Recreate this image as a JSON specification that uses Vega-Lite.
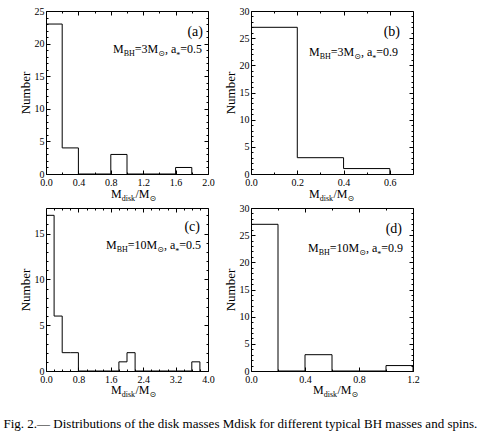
{
"$schema": "https://vega.github.io/schema/vega-lite/v6.json",
"background": "white",
"padding": {"left": 3, "top": 5, "right": 5, "bottom": 5},
"datasets": {
"a": [{"bin_start":0,"count":23},{"bin_start":0.2,"count":4},{"bin_start":0.4,"count":0},{"bin_start":0.6,"count":0},{"bin_start":0.8,"count":3},{"bin_start":1.0,"count":0},{"bin_start":1.2,"count":0},{"bin_start":1.4,"count":0},{"bin_start":1.6,"count":1},{"bin_start":1.8,"count":0}],
"b": [{"bin_start":0,"count":27},{"bin_start":0.2,"count":3},{"bin_start":0.4,"count":1},{"bin_start":0.6,"count":0}],
"c": [{"bin_start":0,"count":17},{"bin_start":0.2,"count":6},{"bin_start":0.4,"count":2},{"bin_start":0.6,"count":2},{"bin_start":0.8,"count":0},{"bin_start":1.0,"count":0},{"bin_start":1.2,"count":0},{"bin_start":1.4,"count":0},{"bin_start":1.6,"count":0},{"bin_start":1.8,"count":1},{"bin_start":2.0,"count":2},{"bin_start":2.2,"count":0},{"bin_start":2.4,"count":0},{"bin_start":2.6,"count":0},{"bin_start":2.8,"count":0},{"bin_start":3.0,"count":0},{"bin_start":3.2,"count":0},{"bin_start":3.4,"count":0},{"bin_start":3.6,"count":1},{"bin_start":3.8,"count":0}],
"d": [{"bin_start":0,"count":27},{"bin_start":0.2,"count":0},{"bin_start":0.4,"count":3},{"bin_start":0.6,"count":0},{"bin_start":0.8,"count":0},{"bin_start":1.0,"count":1},{"bin_start":1.2,"count":0}]
},
"title": {"text": "Fig. 2.— Distributions of the disk masses Mdisk for different typical BH masses and spins.", "orient": "bottom", "anchor": "start", "dx": -15, "offset": 18, "font": "Liberation Serif", "fontSize": 13, "fontWeight": "normal", "color": "black"},
"columns": 2,
"spacing": {"row": 34, "column": 43},
"bounds": "flush",
"concat": [
{"width":162,"height":163,"resolve":{"axis":{"x":"independent","y":"independent"}},"layer":[
{"data":{"name":"a"},"mark":{"type":"line","interpolate":"step-after","color":"black","strokeWidth":1},"encoding":{"x":{"field":"bin_start","type":"quantitative","scale":{"domain":[0,2],"nice":false,"zero":false},"axis":{"orient":"bottom","values":[0,0.4,0.8,1.2,1.6,2.0],"format":".1f","tickSize":-4,"labelPadding":7,"title":null}},"y":{"field":"count","type":"quantitative","scale":{"domain":[0,25],"nice":false},"axis":{"orient":"left","values":[0,5,10,15,20,25],"format":"d","tickSize":-4,"labelPadding":6,"title":"Number","titlePadding":2}}}},
{"data":{"values":[{}]},"mark":{"type":"text","text":"(a)","align":"right","dx":-5,"dy":25,"fontSize":14},"encoding":{"x":{"datum":2,"type":"quantitative","axis":{"orient":"bottom","values":[0.2,0.6,1.0,1.4,1.8],"tickSize":-2,"labels":false,"title":null}},"y":{"datum":25,"type":"quantitative","axis":{"orient":"left","values":[1,2,3,4,6,7,8,9,11,12,13,14,16,17,18,19,21,22,23,24],"tickSize":-2,"labels":false,"title":null}}}},
{"data":{"values":[{}]},"mark":{"type":"text","text":"M","dx":67,"dy":42,"fontSize":12},"encoding":{"x":{"datum":0,"type":"quantitative","axis":{"orient":"top","values":[0,0.4,0.8,1.2,1.6,2.0],"tickSize":-4,"labels":false,"title":null}},"y":{"datum":25,"type":"quantitative","axis":{"orient":"right","values":[0,5,10,15,20,25],"tickSize":-4,"labels":false,"title":null}}}},
{"data":{"values":[{}]},"mark":{"type":"text","text":"BH","dx":77.7,"dy":44.5,"fontSize":8},"encoding":{"x":{"datum":0,"type":"quantitative","axis":{"orient":"top","values":[0.2,0.6,1.0,1.4,1.8],"tickSize":-2,"labels":false,"title":null}},"y":{"datum":25,"type":"quantitative","axis":{"orient":"right","values":[1,2,3,4,6,7,8,9,11,12,13,14,16,17,18,19,21,22,23,24],"tickSize":-2,"labels":false,"title":null}}}},
{"data":{"values":[{}]},"mark":{"type":"text","text":"=3M","dx":88.8,"dy":42,"fontSize":12},"encoding":{"x":{"datum":0,"type":"quantitative","axis":null},"y":{"datum":25,"type":"quantitative","axis":null}}},
{"data":{"values":[{}]},"mark":{"type":"text","text":"⊙","dx":112.2,"dy":45,"fontSize":8,"font":"DejaVu Sans"},"encoding":{"x":{"datum":0,"type":"quantitative","axis":null},"y":{"datum":25,"type":"quantitative","axis":null}}},
{"data":{"values":[{}]},"mark":{"type":"text","text":", a","dx":118.9,"dy":42,"fontSize":12},"encoding":{"x":{"datum":0,"type":"quantitative","axis":null},"y":{"datum":25,"type":"quantitative","axis":null}}},
{"data":{"values":[{}]},"mark":{"type":"text","text":"*","dx":130.2,"dy":47,"fontSize":8},"encoding":{"x":{"datum":0,"type":"quantitative","axis":null},"y":{"datum":25,"type":"quantitative","axis":null}}},
{"data":{"values":[{}]},"mark":{"type":"text","text":"=0.5","dx":134.2,"dy":42,"fontSize":12},"encoding":{"x":{"datum":0,"type":"quantitative","axis":null},"y":{"datum":25,"type":"quantitative","axis":null}}},
{"data":{"values":[{}]},"mark":{"type":"text","text":"M","dx":65,"dy":24,"fontSize":12},"encoding":{"x":{"datum":0,"type":"quantitative","axis":null},"y":{"datum":0,"type":"quantitative","axis":null}}},
{"data":{"values":[{}]},"mark":{"type":"text","text":"disk","dx":75.7,"dy":27,"fontSize":8},"encoding":{"x":{"datum":0,"type":"quantitative","axis":null},"y":{"datum":0,"type":"quantitative","axis":null}}},
{"data":{"values":[{}]},"mark":{"type":"text","text":"/M","dx":89.5,"dy":24,"fontSize":12},"encoding":{"x":{"datum":0,"type":"quantitative","axis":null},"y":{"datum":0,"type":"quantitative","axis":null}}},
{"data":{"values":[{}]},"mark":{"type":"text","text":"⊙","dx":103.5,"dy":27,"fontSize":8,"font":"DejaVu Sans"},"encoding":{"x":{"datum":0,"type":"quantitative","axis":null},"y":{"datum":0,"type":"quantitative","axis":null}}}
]},
{"width":162,"height":163,"resolve":{"axis":{"x":"independent","y":"independent"}},"layer":[
{"data":{"name":"b"},"mark":{"type":"line","interpolate":"step-after","color":"black","strokeWidth":1},"encoding":{"x":{"field":"bin_start","type":"quantitative","scale":{"domain":[0,0.7],"nice":false,"zero":false},"axis":{"orient":"bottom","values":[0,0.2,0.4,0.6],"format":".1f","tickSize":-4,"labelPadding":7,"title":null}},"y":{"field":"count","type":"quantitative","scale":{"domain":[0,30],"nice":false},"axis":{"orient":"left","values":[0,5,10,15,20,25,30],"format":"d","tickSize":-4,"labelPadding":6,"title":"Number","titlePadding":2}}}},
{"data":{"values":[{}]},"mark":{"type":"text","text":"(b)","align":"right","dx":-13,"dy":25,"fontSize":14},"encoding":{"x":{"datum":0.7,"type":"quantitative","axis":{"orient":"bottom","values":[0.1,0.3,0.5],"tickSize":-2,"labels":false,"title":null}},"y":{"datum":30,"type":"quantitative","axis":{"orient":"left","values":[1,2,3,4,6,7,8,9,11,12,13,14,16,17,18,19,21,22,23,24,26,27,28,29],"tickSize":-2,"labels":false,"title":null}}}},
{"data":{"values":[{}]},"mark":{"type":"text","text":"M","dx":58,"dy":45,"fontSize":12},"encoding":{"x":{"datum":0,"type":"quantitative","axis":{"orient":"top","values":[0,0.2,0.4,0.6],"tickSize":-4,"labels":false,"title":null}},"y":{"datum":30,"type":"quantitative","axis":{"orient":"right","values":[0,5,10,15,20,25,30],"tickSize":-4,"labels":false,"title":null}}}},
{"data":{"values":[{}]},"mark":{"type":"text","text":"BH","dx":68.7,"dy":47.5,"fontSize":8},"encoding":{"x":{"datum":0,"type":"quantitative","axis":{"orient":"top","values":[0.1,0.3,0.5],"tickSize":-2,"labels":false,"title":null}},"y":{"datum":30,"type":"quantitative","axis":{"orient":"right","values":[1,2,3,4,6,7,8,9,11,12,13,14,16,17,18,19,21,22,23,24,26,27,28,29],"tickSize":-2,"labels":false,"title":null}}}},
{"data":{"values":[{}]},"mark":{"type":"text","text":"=3M","dx":79.8,"dy":45,"fontSize":12},"encoding":{"x":{"datum":0,"type":"quantitative","axis":null},"y":{"datum":30,"type":"quantitative","axis":null}}},
{"data":{"values":[{}]},"mark":{"type":"text","text":"⊙","dx":103.2,"dy":48,"fontSize":8,"font":"DejaVu Sans"},"encoding":{"x":{"datum":0,"type":"quantitative","axis":null},"y":{"datum":30,"type":"quantitative","axis":null}}},
{"data":{"values":[{}]},"mark":{"type":"text","text":", a","dx":109.9,"dy":45,"fontSize":12},"encoding":{"x":{"datum":0,"type":"quantitative","axis":null},"y":{"datum":30,"type":"quantitative","axis":null}}},
{"data":{"values":[{}]},"mark":{"type":"text","text":"*","dx":121.2,"dy":50,"fontSize":8},"encoding":{"x":{"datum":0,"type":"quantitative","axis":null},"y":{"datum":30,"type":"quantitative","axis":null}}},
{"data":{"values":[{}]},"mark":{"type":"text","text":"=0.9","dx":125.2,"dy":45,"fontSize":12},"encoding":{"x":{"datum":0,"type":"quantitative","axis":null},"y":{"datum":30,"type":"quantitative","axis":null}}},
{"data":{"values":[{}]},"mark":{"type":"text","text":"M","dx":58,"dy":24,"fontSize":12},"encoding":{"x":{"datum":0,"type":"quantitative","axis":null},"y":{"datum":0,"type":"quantitative","axis":null}}},
{"data":{"values":[{}]},"mark":{"type":"text","text":"disk","dx":68.7,"dy":27,"fontSize":8},"encoding":{"x":{"datum":0,"type":"quantitative","axis":null},"y":{"datum":0,"type":"quantitative","axis":null}}},
{"data":{"values":[{}]},"mark":{"type":"text","text":"/M","dx":82.5,"dy":24,"fontSize":12},"encoding":{"x":{"datum":0,"type":"quantitative","axis":null},"y":{"datum":0,"type":"quantitative","axis":null}}},
{"data":{"values":[{}]},"mark":{"type":"text","text":"⊙","dx":96.5,"dy":27,"fontSize":8,"font":"DejaVu Sans"},"encoding":{"x":{"datum":0,"type":"quantitative","axis":null},"y":{"datum":0,"type":"quantitative","axis":null}}}
]},
{"width":162,"height":163,"resolve":{"axis":{"x":"independent","y":"independent"}},"layer":[
{"data":{"name":"c"},"mark":{"type":"line","interpolate":"step-after","color":"black","strokeWidth":1},"encoding":{"x":{"field":"bin_start","type":"quantitative","scale":{"domain":[0,4],"nice":false,"zero":false},"axis":{"orient":"bottom","values":[0,0.8,1.6,2.4,3.2,4.0],"format":".1f","tickSize":-4,"labelPadding":7,"title":null}},"y":{"field":"count","type":"quantitative","scale":{"domain":[0,17.8],"nice":false},"axis":{"orient":"left","values":[0,5,10,15],"format":"d","tickSize":-4,"labelPadding":6,"title":"Number","titlePadding":2}}}},
{"data":{"values":[{}]},"mark":{"type":"text","text":"(c)","align":"right","dx":-8,"dy":23,"fontSize":14},"encoding":{"x":{"datum":4,"type":"quantitative","axis":{"orient":"bottom","values":[0.2,0.4,0.6,1.0,1.2,1.4,1.8,2.0,2.2,2.6,2.8,3.0,3.4,3.6,3.8],"tickSize":-2,"labels":false,"title":null}},"y":{"datum":17.8,"type":"quantitative","axis":{"orient":"left","values":[1,2,3,4,6,7,8,9,11,12,13,14,16,17],"tickSize":-2,"labels":false,"title":null}}}},
{"data":{"values":[{}]},"mark":{"type":"text","text":"M","dx":60,"dy":41,"fontSize":12},"encoding":{"x":{"datum":0,"type":"quantitative","axis":{"orient":"top","values":[0,0.8,1.6,2.4,3.2,4.0],"tickSize":-4,"labels":false,"title":null}},"y":{"datum":17.8,"type":"quantitative","axis":{"orient":"right","values":[0,5,10,15],"tickSize":-4,"labels":false,"title":null}}}},
{"data":{"values":[{}]},"mark":{"type":"text","text":"BH","dx":70.7,"dy":43.5,"fontSize":8},"encoding":{"x":{"datum":0,"type":"quantitative","axis":{"orient":"top","values":[0.2,0.4,0.6,1.0,1.2,1.4,1.8,2.0,2.2,2.6,2.8,3.0,3.4,3.6,3.8],"tickSize":-2,"labels":false,"title":null}},"y":{"datum":17.8,"type":"quantitative","axis":{"orient":"right","values":[1,2,3,4,6,7,8,9,11,12,13,14,16,17],"tickSize":-2,"labels":false,"title":null}}}},
{"data":{"values":[{}]},"mark":{"type":"text","text":"=10M","dx":81.8,"dy":41,"fontSize":12},"encoding":{"x":{"datum":0,"type":"quantitative","axis":null},"y":{"datum":17.8,"type":"quantitative","axis":null}}},
{"data":{"values":[{}]},"mark":{"type":"text","text":"⊙","dx":111.2,"dy":44,"fontSize":8,"font":"DejaVu Sans"},"encoding":{"x":{"datum":0,"type":"quantitative","axis":null},"y":{"datum":17.8,"type":"quantitative","axis":null}}},
{"data":{"values":[{}]},"mark":{"type":"text","text":", a","dx":117.9,"dy":41,"fontSize":12},"encoding":{"x":{"datum":0,"type":"quantitative","axis":null},"y":{"datum":17.8,"type":"quantitative","axis":null}}},
{"data":{"values":[{}]},"mark":{"type":"text","text":"*","dx":129.2,"dy":46,"fontSize":8},"encoding":{"x":{"datum":0,"type":"quantitative","axis":null},"y":{"datum":17.8,"type":"quantitative","axis":null}}},
{"data":{"values":[{}]},"mark":{"type":"text","text":"=0.5","dx":133.2,"dy":41,"fontSize":12},"encoding":{"x":{"datum":0,"type":"quantitative","axis":null},"y":{"datum":17.8,"type":"quantitative","axis":null}}},
{"data":{"values":[{}]},"mark":{"type":"text","text":"M","dx":65,"dy":23,"fontSize":12},"encoding":{"x":{"datum":0,"type":"quantitative","axis":null},"y":{"datum":0,"type":"quantitative","axis":null}}},
{"data":{"values":[{}]},"mark":{"type":"text","text":"disk","dx":75.7,"dy":26,"fontSize":8},"encoding":{"x":{"datum":0,"type":"quantitative","axis":null},"y":{"datum":0,"type":"quantitative","axis":null}}},
{"data":{"values":[{}]},"mark":{"type":"text","text":"/M","dx":89.5,"dy":23,"fontSize":12},"encoding":{"x":{"datum":0,"type":"quantitative","axis":null},"y":{"datum":0,"type":"quantitative","axis":null}}},
{"data":{"values":[{}]},"mark":{"type":"text","text":"⊙","dx":103.5,"dy":26,"fontSize":8,"font":"DejaVu Sans"},"encoding":{"x":{"datum":0,"type":"quantitative","axis":null},"y":{"datum":0,"type":"quantitative","axis":null}}}
]},
{"width":162,"height":163,"resolve":{"axis":{"x":"independent","y":"independent"}},"layer":[
{"data":{"name":"d"},"mark":{"type":"line","interpolate":"step-after","color":"black","strokeWidth":1},"encoding":{"x":{"field":"bin_start","type":"quantitative","scale":{"domain":[0,1.2],"nice":false,"zero":false},"axis":{"orient":"bottom","values":[0,0.4,0.8,1.2],"format":".1f","tickSize":-4,"labelPadding":7,"title":null}},"y":{"field":"count","type":"quantitative","scale":{"domain":[0,30],"nice":false},"axis":{"orient":"left","values":[0,5,10,15,20,25,30],"format":"d","tickSize":-4,"labelPadding":6,"title":"Number","titlePadding":2}}}},
{"data":{"values":[{}]},"mark":{"type":"text","text":"(d)","align":"right","dx":-11,"dy":25,"fontSize":14},"encoding":{"x":{"datum":1.2,"type":"quantitative","axis":{"orient":"bottom","values":[0.2,0.6,1.0],"tickSize":-2,"labels":false,"title":null}},"y":{"datum":30,"type":"quantitative","axis":{"orient":"left","values":[1,2,3,4,6,7,8,9,11,12,13,14,16,17,18,19,21,22,23,24,26,27,28,29],"tickSize":-2,"labels":false,"title":null}}}},
{"data":{"values":[{}]},"mark":{"type":"text","text":"M","dx":57,"dy":44,"fontSize":12},"encoding":{"x":{"datum":0,"type":"quantitative","axis":{"orient":"top","values":[0,0.4,0.8,1.2],"tickSize":-4,"labels":false,"title":null}},"y":{"datum":30,"type":"quantitative","axis":{"orient":"right","values":[0,5,10,15,20,25,30],"tickSize":-4,"labels":false,"title":null}}}},
{"data":{"values":[{}]},"mark":{"type":"text","text":"BH","dx":67.7,"dy":46.5,"fontSize":8},"encoding":{"x":{"datum":0,"type":"quantitative","axis":{"orient":"top","values":[0.2,0.6,1.0],"tickSize":-2,"labels":false,"title":null}},"y":{"datum":30,"type":"quantitative","axis":{"orient":"right","values":[1,2,3,4,6,7,8,9,11,12,13,14,16,17,18,19,21,22,23,24,26,27,28,29],"tickSize":-2,"labels":false,"title":null}}}},
{"data":{"values":[{}]},"mark":{"type":"text","text":"=10M","dx":78.8,"dy":44,"fontSize":12},"encoding":{"x":{"datum":0,"type":"quantitative","axis":null},"y":{"datum":30,"type":"quantitative","axis":null}}},
{"data":{"values":[{}]},"mark":{"type":"text","text":"⊙","dx":108.2,"dy":47,"fontSize":8,"font":"DejaVu Sans"},"encoding":{"x":{"datum":0,"type":"quantitative","axis":null},"y":{"datum":30,"type":"quantitative","axis":null}}},
{"data":{"values":[{}]},"mark":{"type":"text","text":", a","dx":114.9,"dy":44,"fontSize":12},"encoding":{"x":{"datum":0,"type":"quantitative","axis":null},"y":{"datum":30,"type":"quantitative","axis":null}}},
{"data":{"values":[{}]},"mark":{"type":"text","text":"*","dx":126.2,"dy":49,"fontSize":8},"encoding":{"x":{"datum":0,"type":"quantitative","axis":null},"y":{"datum":30,"type":"quantitative","axis":null}}},
{"data":{"values":[{}]},"mark":{"type":"text","text":"=0.9","dx":130.2,"dy":44,"fontSize":12},"encoding":{"x":{"datum":0,"type":"quantitative","axis":null},"y":{"datum":30,"type":"quantitative","axis":null}}},
{"data":{"values":[{}]},"mark":{"type":"text","text":"M","dx":62,"dy":23,"fontSize":12},"encoding":{"x":{"datum":0,"type":"quantitative","axis":null},"y":{"datum":0,"type":"quantitative","axis":null}}},
{"data":{"values":[{}]},"mark":{"type":"text","text":"disk","dx":72.7,"dy":26,"fontSize":8},"encoding":{"x":{"datum":0,"type":"quantitative","axis":null},"y":{"datum":0,"type":"quantitative","axis":null}}},
{"data":{"values":[{}]},"mark":{"type":"text","text":"/M","dx":86.5,"dy":23,"fontSize":12},"encoding":{"x":{"datum":0,"type":"quantitative","axis":null},"y":{"datum":0,"type":"quantitative","axis":null}}},
{"data":{"values":[{}]},"mark":{"type":"text","text":"⊙","dx":100.5,"dy":26,"fontSize":8,"font":"DejaVu Sans"},"encoding":{"x":{"datum":0,"type":"quantitative","axis":null},"y":{"datum":0,"type":"quantitative","axis":null}}}
]}
],
"config": {
"view": {"stroke": "black", "strokeWidth": 1, "fill": null},
"axis": {"domain": false, "grid": false, "labelFlush": false, "labelOverlap": false, "labelBound": false, "labelFont": "Liberation Serif", "labelFontSize": 10, "labelColor": "black", "tickColor": "black", "tickWidth": 1, "titleFont": "Liberation Serif", "titleFontSize": 13, "titleFontWeight": "normal", "titleColor": "black"},
"text": {"font": "Liberation Serif", "align": "left", "baseline": "alphabetic", "color": "black"},
"line": {"color": "black"}
}
}
